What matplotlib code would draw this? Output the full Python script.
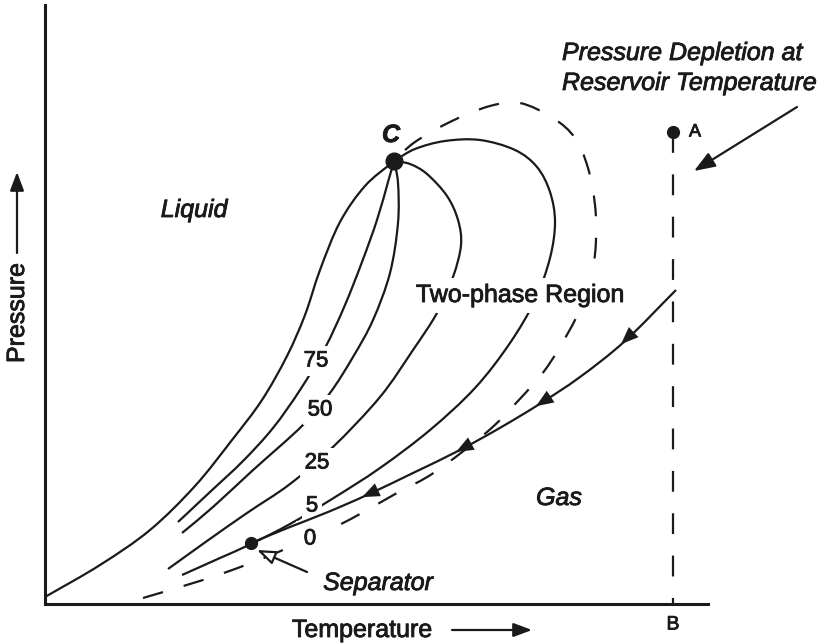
import numpy as np
import matplotlib
import matplotlib.pyplot as plt
import matplotlib.patheffects as pe
from matplotlib.path import Path
from matplotlib.patches import PathPatch
matplotlib.use('Agg')

plt.rcParams['font.family'] = ['Liberation Sans', 'DejaVu Sans']
plt.rcParams['lines.scale_dashes'] = False

INK = '#1a1a1a'

# points: temperature (x) and pressure (y), arbitrary units
critical_t, critical_p = 349, 443

bubble_t = [0, 55, 105, 150, 187, 217, 242, 260, 275, 295, 320, 349]
bubble_p = [7, 39, 74, 118, 164, 204, 248, 289, 334, 382, 418, 443]

q75_t = [133, 165, 198, 228, 255, 280, 300, 317, 332, 343, 349]
q75_p = [82, 112, 143, 176, 214, 256, 299, 342, 384, 422, 443]

q50_t = [137, 168, 207, 258, 285, 308, 328, 345, 353, 353, 349]
q50_p = [71, 97, 133, 179, 211, 247, 284, 331, 381, 421, 443]

q25_t = [123, 162, 202, 245, 288, 335, 368, 392, 408, 416, 413, 402, 382, 365, 349]
q25_p = [35, 63, 91, 120, 157, 207, 254, 291, 327, 359, 384, 408, 430, 440, 443]

q5_t = [137, 175, 206, 245, 287, 335, 385, 430, 465, 490, 505, 510, 505, 492,
        470, 435, 400, 370, 349]
q5_p = [29, 46, 60, 80, 105, 136, 174, 216, 261, 304, 346, 382, 412, 437,
        454, 464, 463, 455, 443]

dew_t = [98, 158, 198, 238, 298, 352, 390, 442, 472, 500, 523, 537, 547, 551,
         550, 543, 530, 508, 475, 445, 407, 370, 349]
dew_p = [6, 24, 38, 54, 81, 111, 132, 172, 202, 234, 271, 299, 329, 364,
         399, 436, 466, 486, 501, 498, 483, 462, 443]

# production path from reservoir down to the separator
path_t = [631, 580, 535, 493, 453, 413, 368, 322, 283, 245, 206]
path_p = [314, 263, 227, 199, 175, 153, 131, 109, 92, 77, 61]
arrow_t = [580, 495, 415, 321]

separator_t, separator_p = 206, 61
reservoir_t = 628
point_a_p = 472

quality_labels = ["75", "50", "25", "5", "0"]
quality_label_t = [271, 275, 272, 267, 265]
quality_label_p = [243, 194, 141, 98, 65]
quality_label_pad = [3, 3, 3, 3, 5.5]

heavy = [pe.withStroke(linewidth=0.6, foreground=INK)]


def smooth_path(xs, ys):
    """catmull-rom through the points, drawn as cubic bezier"""
    pts = np.column_stack([xs, ys]).astype(float)
    n = len(pts)
    tang = np.zeros_like(pts)
    tang[1:-1] = (pts[2:] - pts[:-2]) / 2
    tang[0] = pts[1] - pts[0]
    tang[-1] = pts[-1] - pts[-2]
    verts = [pts[0]]
    codes = [Path.MOVETO]
    for i in range(n - 1):
        verts += [pts[i] + tang[i] / 3, pts[i + 1] - tang[i + 1] / 3, pts[i + 1]]
        codes += [Path.CURVE4] * 3
    return Path(verts, codes)


def draw_curve(ax, xs, ys, dashed=False, z=2):
    ls = (0, (15, 15.5)) if dashed else '-'
    ax.add_patch(PathPatch(smooth_path(xs, ys), fill=False, ec=INK,
                           lw=1.6, ls=ls, zorder=z, capstyle='butt'))


def label(ax, x, y, s, **kw):
    kw.setdefault('fontsize', 18)
    kw.setdefault('ha', 'center')
    kw.setdefault('va', 'center')
    return ax.text(x, y, s, color=INK, path_effects=heavy, **kw)


def arrow(ax, tip, tail, scale=14, **kw):
    props = dict(arrowstyle='-|>,head_length=0.8,head_width=0.3',
                 color=INK, lw=1.6, shrinkA=0, shrinkB=0, mutation_scale=scale)
    props.update(kw)
    ax.annotate("", xy=tip, xytext=tail, arrowprops=props, zorder=5)


def phase_diagram():
    fig = plt.figure(figsize=(8.36, 6.44), dpi=100)
    ax = fig.add_axes([0, 0, 1, 1])
    ax.set_xlim(-45, 791)
    ax.set_ylim(-40, 604)
    for side in ["top", "right"]:
        ax.spines[side].set_visible(False)
    for side in ["left", "bottom"]:
        ax.spines[side].set_position(('data', 0))
        ax.spines[side].set_linewidth(2.2)
        ax.spines[side].set_color(INK)
    ax.spines["left"].set_bounds(0, 599)
    ax.spines["bottom"].set_bounds(0, 663)
    ax.set_xticks([])
    ax.set_yticks([])

    draw_curve(ax, bubble_t, bubble_p)
    draw_curve(ax, q75_t, q75_p)
    draw_curve(ax, q50_t, q50_p)
    draw_curve(ax, q25_t, q25_p)
    draw_curve(ax, q5_t, q5_p)
    draw_curve(ax, dew_t, dew_p, dashed=True)
    draw_curve(ax, path_t, path_p, z=4)

    # arrows along the production path
    rev_t = path_t[::-1]
    rev_p = path_p[::-1]
    for t in arrow_t:
        arrow(ax, (t - 4, np.interp(t - 4, rev_t, rev_p)),
              (t + 14, np.interp(t + 14, rev_t, rev_p)), scale=18, lw=0,
              arrowstyle='-|>,head_length=0.7,head_width=0.28')

    # reservoir temperature depletion line A-B
    ax.plot([reservoir_t, reservoir_t], [point_a_p, 0], color=INK,
            lw=1.6, ls=(0, (15, 15.5)), zorder=2)
    ax.plot(reservoir_t, point_a_p, 'o', color=INK, ms=8.5, zorder=5)
    label(ax, reservoir_t + 16, point_a_p, "A", fontsize=13, ha='left')
    label(ax, reservoir_t, -21, "B", fontsize=14)

    ax.plot(critical_t, critical_p, 'o', color=INK, ms=12, zorder=5)
    label(ax, critical_t - 3, critical_p + 26, "C", style='italic',
          weight='bold')

    ax.plot(separator_t, separator_p, 'o', color=INK, ms=8.5, zorder=5)
    arrow(ax, (212, 54), (262, 32), fc='white', ec=INK)
    label(ax, 333, 21, "Separator", style='italic')

    for lab, t, p, pad in zip(quality_labels, quality_label_t,
                              quality_label_p, quality_label_pad):
        label(ax, t, p, lab, fontsize=16, zorder=3,
              bbox=dict(fc='white', ec='none', pad=pad))

    label(ax, 475, 309, "Two-phase Region", zorder=3,
          bbox=dict(fc='white', ec='none', pad=4))
    label(ax, 149, 394, "Liquid", style='italic')
    label(ax, 514, 106, "Gas", style='italic')

    label(ax, 517, 551, "Pressure Depletion at", style='italic', ha='left')
    label(ax, 517, 521, "Reservoir Temperature", style='italic', ha='left')
    arrow(ax, (649, 433), (752, 497), scale=16)

    # axis titles with arrows
    label(ax, -28, 291, "Pressure", rotation=90)
    arrow(ax, (-28, 432), (-28, 351))
    label(ax, 317, -26, "Temperature")
    arrow(ax, (487, -26), (407, -26))

    fig.savefig("out.png", dpi=100)


if __name__ == "__main__":
    phase_diagram()
